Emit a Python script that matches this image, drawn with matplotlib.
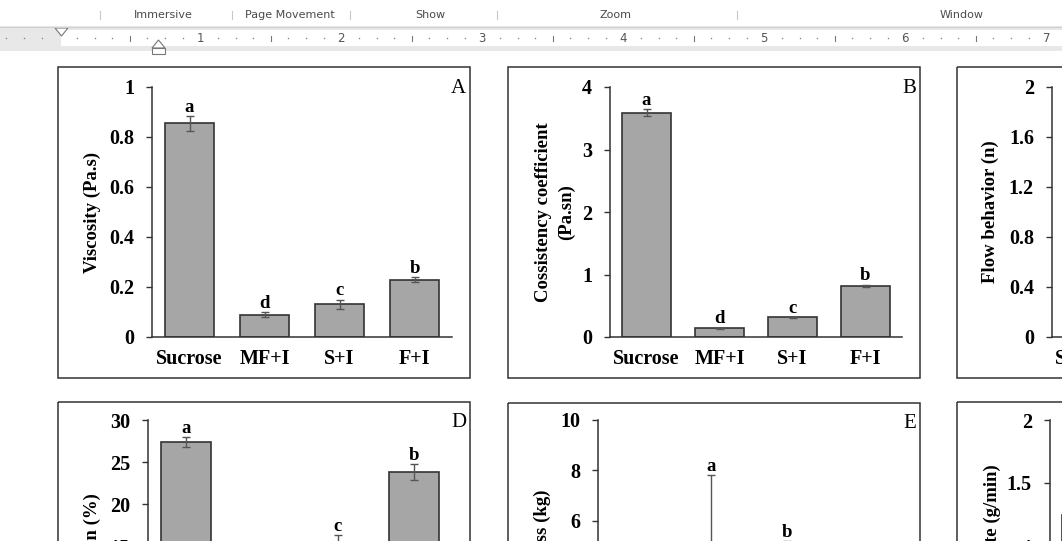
import matplotlib.pyplot as plt
from matplotlib.patches import Rectangle, Polygon

W, H = 1062, 541

categories = ['Sucrose', 'MF+I', 'S+I', 'F+I']

# A - viscosity
viscosity = [0.855, 0.09, 0.132, 0.229]
viscosity_err = [0.03, 0.01, 0.018, 0.01]
viscosity_letters = ['a', 'd', 'c', 'b']

# B - consistency coefficient
consistency = [3.59, 0.14, 0.315, 0.82]
consistency_err = [0.06, 0.01, 0.01, 0.02]
consistency_letters = ['a', 'd', 'c', 'b']

# C - flow behaviour (off the page edge, estimated)
flow = [0.62, 0.95, 0.88, 0.74]
flow_err = [0.03, 0.04, 0.03, 0.03]
flow_letters = ['c', 'a', 'a', 'b']

# D - overrun
overrun = [27.4, 11.0, 14.8, 23.8]
overrun_err = [0.6, 0.8, 1.5, 1.0]
overrun_letters = ['a', 'd', 'c', 'b']

# E - hardness
hardness = [3.2, 4.4, 4.8, 2.6]
hardness_err = [0.4, 3.4, 0.4, 0.3]
hardness_letters = ['c', 'a', 'b', 'd']

# F - melting rate (off the page edge, estimated)
melting = [1.25, 0.9, 1.0, 1.1]
melting_err = [0.05, 0.04, 0.05, 0.04]
melting_letters = ['a', 'c', 'b', 'b']

ribbon_labels = ['Immersive', 'Page Movement', 'Show', 'Zoom', 'Window']
ribbon_x = [163, 290, 430, 615, 962]
ribbon_seps = [100, 232, 350, 497, 737]

SERIF = 'Liberation Serif'
EDGE = '#333333'

fig = plt.figure(figsize=(W / 100, H / 100), dpi=100)
fig.patch.set_facecolor('white')

# background layer in pixel coordinates (ribbon, ruler, panel frames)
bg = fig.add_axes([0, 0, 1, 1])
bg.set_xlim(0, W)
bg.set_ylim(H, 0)
bg.axis('off')

for lab, x in zip(ribbon_labels, ribbon_x):
    bg.text(x, 15, lab, ha='center', va='center', fontsize=8, color='#4a4a4a')
for x in ribbon_seps:
    bg.plot([x, x], [11, 19], color='#c8c8c8', lw=0.8)

bg.add_patch(Rectangle((0, 26), W, 25, fc='#e8e8e8', ec='none'))
bg.plot([0, W], [26.5, 26.5], color='#d0d0d0', lw=0.8)
bg.add_patch(Rectangle((61, 30), W - 61, 16, fc='white', ec='none'))

origin, inch = 59.3, 141.0
for k in range(-3, 7 * 8 + 2):
    x = origin + k * inch / 8
    if k == 0:
        continue
    if k % 8 == 0:
        bg.text(x, 38, str(k // 8), ha='center', va='center', fontsize=8.5, color='#555555')
    elif k % 4 == 0:
        bg.plot([x, x], [35.5, 40.5], color='#777777', lw=0.8)
    else:
        bg.plot([x], [38], marker='o', ms=1.1, color='#888888', mec='none')

bg.add_patch(Polygon([(55, 28), (68, 28), (61.5, 36)], closed=True, fc='white', ec='#777777', lw=0.8))
bg.add_patch(Polygon([(152, 48), (165, 48), (158.5, 40)], closed=True, fc='white', ec='#777777', lw=0.8))
bg.add_patch(Rectangle((152, 48), 13, 6, fc='white', ec='#777777', lw=0.8))

# panel frames
for (x, y, w, h) in [(58, 67, 412, 311), (508, 67, 412, 311), (957, 67, 200, 311),
                     (58, 402, 412, 311), (508, 403, 412, 311), (957, 402, 200, 311)]:
    bg.add_patch(Rectangle((x, y), w, h, fc='none', ec=EDGE, lw=1.1))


def draw_panel(box, values, errs, letters, ymax, ystep, ylabel, label_px, tag=None, tag_xy=None):
    x0, y0, x1, y1 = box
    ax = fig.add_axes([x0 / W, 1 - y1 / H, (x1 - x0) / W, (y1 - y0) / H])
    ax.patch.set_alpha(0)
    pos = range(len(categories))
    ax.bar(pos, values, width=0.66, color='#a6a6a6', edgecolor=EDGE, linewidth=1.2, zorder=2)
    ax.errorbar(pos, values, yerr=errs, fmt='none', ecolor='#555555', elinewidth=1,
                capsize=3, capthick=1, zorder=3)
    for i, (v, e, l) in enumerate(zip(values, errs, letters)):
        ax.annotate(l, (i, v + e), xytext=(0, 3), textcoords='offset points',
                    ha='center', va='baseline', fontsize=13.5, fontweight='bold', family=SERIF)
    ax.set_xlim(-0.5, len(categories) - 0.5)
    ax.set_ylim(0, ymax)
    ticks = [ystep * i for i in range(int(round(ymax / ystep)) + 1)]
    ax.set_yticks(ticks)
    ax.set_yticklabels(['%g' % round(t, 2) for t in ticks])
    ax.set_xticks(list(pos))
    ax.set_xticklabels(categories)
    for s in ['top', 'right']:
        ax.spines[s].set_visible(False)
    for s in ['left', 'bottom']:
        ax.spines[s].set_color(EDGE)
        ax.spines[s].set_linewidth(1.1)
    ax.tick_params(axis='y', direction='out', length=4, width=1, color=EDGE, pad=9)
    ax.tick_params(axis='x', length=0, pad=9)
    for t in ax.get_xticklabels() + ax.get_yticklabels():
        t.set_fontfamily(SERIF)
        t.set_fontweight('bold')
        t.set_fontsize(14.5)
    ax.set_ylabel(ylabel, fontsize=13.5, fontweight='bold', family=SERIF,
                  linespacing=1.45, va='center', ha='center')
    ax.yaxis.set_label_coords((label_px - x0) / (x1 - x0), 0.5)
    if tag:
        fig.text(tag_xy[0] / W, 1 - tag_xy[1] / H, tag, ha='right', va='top',
                 fontsize=15, family=SERIF)
    return ax


draw_panel((152, 87, 452, 337), viscosity, viscosity_err, viscosity_letters, 1, 0.2,
           'Viscosity (Pa.s)', 92, 'A', (466, 79))
draw_panel((610, 87, 902, 337), consistency, consistency_err, consistency_letters, 4, 1,
           'Cossistency coefficient\n(Pa.sn)', 555, 'B', (916, 79))
draw_panel((1052, 87, 1344, 337), flow, flow_err, flow_letters, 2, 0.4,
           'Flow behavior (n)', 990)
draw_panel((148, 420, 452, 672), overrun, overrun_err, overrun_letters, 30, 5,
           'Overrun (%)', 92, 'D', (466, 413))
draw_panel((598, 420, 900, 672), hardness, hardness_err, hardness_letters, 10, 2,
           'Hardness (kg)', 542, 'E', (916, 414))
draw_panel((1050, 420, 1342, 672), melting, melting_err, melting_letters, 2, 0.5,
           'Melting rate (g/min)', 992)

fig.savefig('out.png', dpi=100)
